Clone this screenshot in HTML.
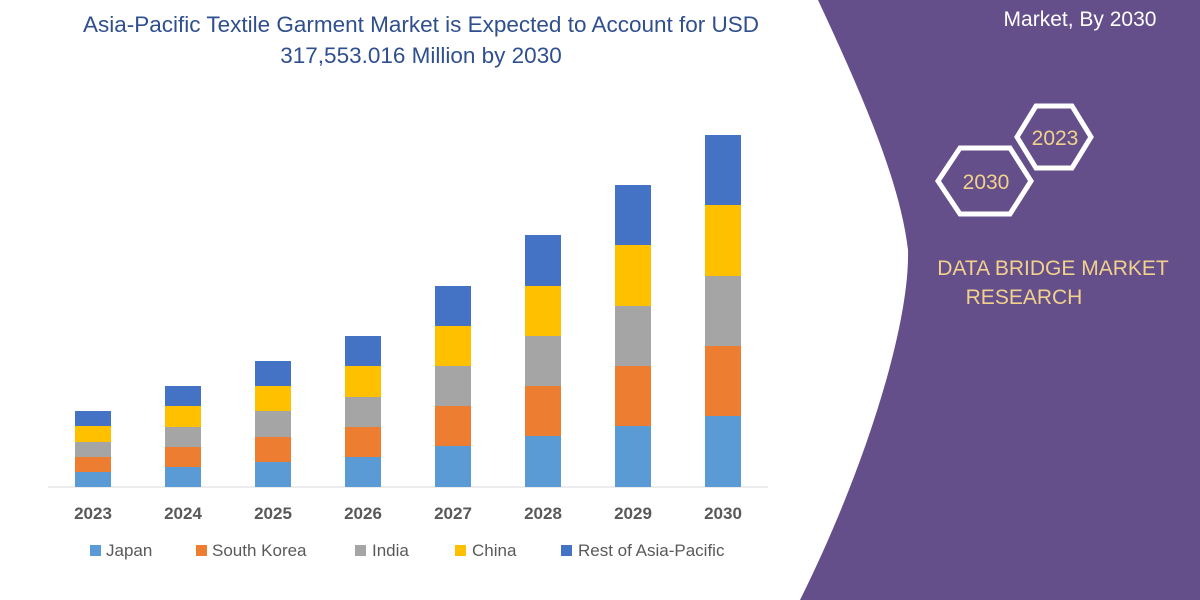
<!DOCTYPE html>
<html><head><style>
body{margin:0;width:1200px;height:600px;overflow:hidden;background:#fff;font-family:"Liberation Sans",sans-serif}
</style></head><body>
<svg width="1200" height="600" viewBox="0 0 1200 600" xmlns="http://www.w3.org/2000/svg" style="position:absolute;left:0;top:0">
<path d="M818,0 L1200,0 L1200,600 L800,600 C860,480 910,330 908,250 C900,180 860,90 818,0 Z" fill="#644f8b"/>
<text x="1080" y="26" fill="#fff" font-size="21" text-anchor="middle">Market, By 2030</text>
<polygon points="1017,137 1036,106 1072,106 1091,137 1072,168 1036,168" fill="none" stroke="#fff" stroke-width="5"/>
<text x="1055" y="145" fill="#f2d18c" font-size="21" text-anchor="middle">2023</text>
<polygon points="938,181 960,148 1010,148 1031,181 1010,214 960,214" fill="none" stroke="#fff" stroke-width="5"/>
<text x="986" y="189" fill="#f2d18c" font-size="21" text-anchor="middle">2030</text>
<text x="1053" y="275" fill="#f2d18c" font-size="21" text-anchor="middle">DATA BRIDGE MARKET</text>
<text x="1024" y="304" fill="#f2d18c" font-size="21" text-anchor="middle">RESEARCH</text>
<text x="421" y="32" fill="#2f4f8f" font-size="22.5" text-anchor="middle">Asia-Pacific Textile Garment Market is Expected to Account for USD</text>
<text x="421" y="63" fill="#2f4f8f" font-size="22.5" text-anchor="middle">317,553.016 Million by 2030</text>
<line x1="48" y1="487" x2="768" y2="487" stroke="#d9d9d9" stroke-width="1"/>
<g id="bars"></g>
<g font-size="17" font-weight="bold" fill="#595959" text-anchor="middle">
<text x="93" y="519">2023</text><text x="183" y="519">2024</text><text x="273" y="519">2025</text><text x="363" y="519">2026</text>
<text x="453" y="519">2027</text><text x="543" y="519">2028</text><text x="633" y="519">2029</text><text x="723" y="519">2030</text>
</g>
<g font-size="17" fill="#595959">
<rect x="90" y="545" width="11" height="11" fill="#5b9bd5"/><text x="106" y="556">Japan</text>
<rect x="196" y="545" width="11" height="11" fill="#ed7d31"/><text x="212" y="556">South Korea</text>
<rect x="355" y="545" width="11" height="11" fill="#a5a5a5"/><text x="372" y="556">India</text>
<rect x="455" y="545" width="11" height="11" fill="#ffc000"/><text x="472" y="556">China</text>
<rect x="561" y="545" width="11" height="11" fill="#4472c4"/><text x="578" y="556">Rest of Asia-Pacific</text>
</g>
</svg>
<script>
var c=["#5b9bd5","#ed7d31","#a5a5a5","#ffc000","#4472c4"];
var d=[[472,457,442,426,411],[467,447,427,406,386],[462,437,411,386,361],[457,427,397,366,336],[446,406,366,326,286],[436,386,336,286,235],[426,366,306,245,185],[416,346,276,205,135]];
var g=document.getElementById("bars"),s="";
d.forEach(function(b,i){var x=75+90*i,prev=487;b.forEach(function(y,j){s+='<rect x="'+x+'" y="'+y+'" width="36" height="'+(prev-y)+'" fill="'+c[j]+'"/>';prev=y;});});
g.innerHTML=s;
</script>
</body></html>
